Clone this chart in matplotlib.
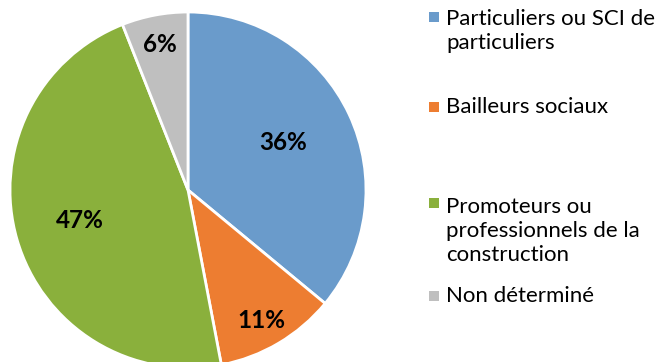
import matplotlib

matplotlib.use("Agg")

import matplotlib.pyplot as plt
from matplotlib.patches import Rectangle

plt.rcParams["font.family"] = ["Lato", "DejaVu Sans"]

# Répartition des maîtres d'ouvrage
categories = [
    "Particuliers ou SCI de\nparticuliers",
    "Bailleurs sociaux",
    "Promoteurs ou\nprofessionnels de la\nconstruction",
    "Non déterminé",
]
shares = [36, 11, 47, 6]
colors = ["#6A9BCB", "#ED7D31", "#8AB03C", "#BFBFBF"]

W, H = 665, 362
fig = plt.figure(figsize=(W / 100, H / 100), dpi=100, facecolor="white")

# Pie axes in pixel coords: centre (188, 190), radius 178
cx, cy, r = 188, 190, 178
ax = fig.add_axes([(cx - r) / W, (H - cy - r) / H, 2 * r / W, 2 * r / H])
wedges, _ = ax.pie(
    shares, colors=colors, startangle=90, counterclock=False,
    wedgeprops={"edgecolor": "white", "linewidth": 2},
)
ax.set_aspect("equal")
ax.set_xlim(-1, 1)
ax.set_ylim(-1, 1)
for w in wedges:
    w.set_clip_on(False)

# data labels, placed in pixel coordinates
label_pos = [(283, 142), (261, 320), (80, 220), (160, 44)]
for (px, py), v in zip(label_pos, shares):
    fig.text(px / W, 1 - py / H, f"{v}%", ha="center", va="center",
             fontsize=17.5, fontweight="bold", color="black")

# legend drawn by hand to keep the spacing of the original layout
legend_y = [31, 107, 231, 296]
for label, color, y in zip(categories, colors, legend_y):
    n = label.count("\n") + 1
    top = y - (n - 1) * 28 / 2
    fig.patches.append(Rectangle((429 / W, 1 - (top + 5) / H), 10 / W, 10 / H,
                                 transform=fig.transFigure, facecolor=color,
                                 edgecolor="none"))
    fig.text(446 / W, 1 - y / H, label, ha="left", va="center",
             fontsize=16, color="black", linespacing=1.25)

fig.savefig("out.png", dpi=100, facecolor="white")
